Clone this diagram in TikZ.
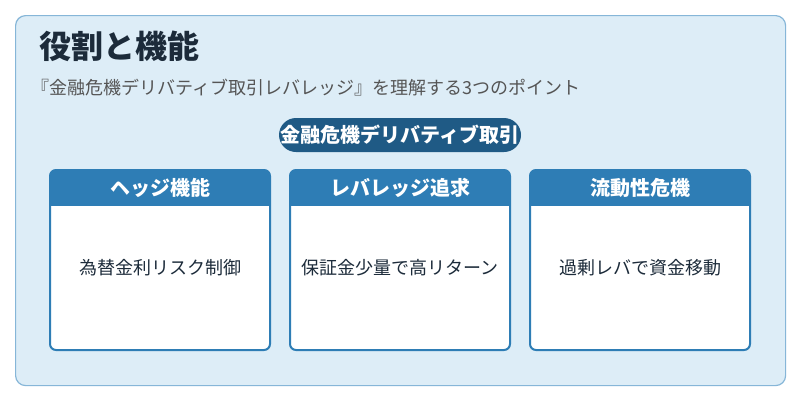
\documentclass[tikz,border=0pt]{standalone}
\usepackage{fontspec}
\setmainfont{Noto Sans CJK JP}
\definecolor{bgc}{HTML}{DDEDF7}
\definecolor{bdc}{HTML}{86B6D8}
\definecolor{hdc}{HTML}{2E7DB5}
\definecolor{pill}{HTML}{1F5A85}
\definecolor{ttl}{HTML}{1C2B3A}
\definecolor{sub}{HTML}{555555}
\begin{document}
\begin{tikzpicture}[x=1pt,y=-1pt,
  body/.style={font=\fontsize{18}{21}\selectfont,text=ttl}]
\useasboundingbox (0,0) rectangle (800,400);
\fill[white] (0,0) rectangle (800,400);
\node[draw=bdc,line width=1.2pt,fill=bgc,rounded corners=10pt,minimum width=770pt,minimum height=370pt,anchor=north west] (frame) at (15,15) {};
\node[anchor=west,text=ttl,font=\fontsize{32}{36}\selectfont\bfseries] (title) at (36,46) {役割と機能};
\node[anchor=west,text=sub,font=\fontsize{18}{21}\selectfont] (subt) at (28,88) {『金融危機デリバティブ取引レバレッジ』を理解する3つのポイント};
\node[fill=pill,rounded corners=17pt,minimum width=242pt,minimum height=34pt,inner sep=1pt,text=white,font=\fontsize{20}{23}\selectfont\bfseries] (pill) at (400,135) {金融危機デリバティブ取引};
\foreach \x/\h/\b/\n in {50/ヘッジ機能/為替金利リスク制御/a,290/レバレッジ追求/保証金少量で高リターン/b,530/流動性危機/過剰レバで資金移動/c}{
  \begin{scope}
  \clip[rounded corners=6pt] (\x,170) rectangle ++(220,180);
  \fill[white] (\x,170) rectangle ++(220,180);
  \fill[hdc] (\x,170) rectangle ++(220,36);
  \end{scope}
  \draw[hdc,line width=2pt,rounded corners=6pt] (\x,170) rectangle ++(220,180);
  \node[text=white,font=\fontsize{20}{23}\selectfont\bfseries] (head\n) at (\x+110,188) {\h};
  \node[body] (body\n) at (\x+110,268) {\b};
}
\end{tikzpicture}
\end{document}
